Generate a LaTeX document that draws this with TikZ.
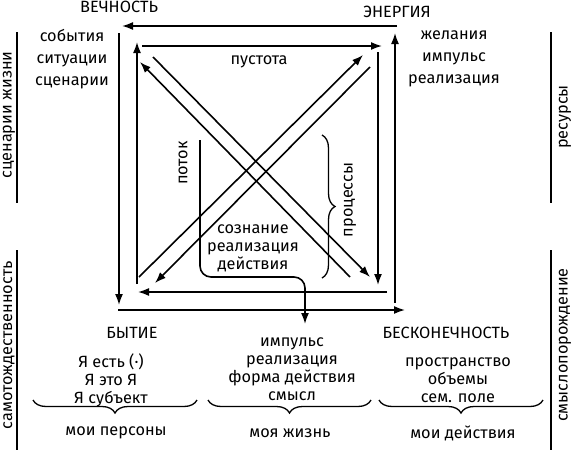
\documentclass[tikz,border=0pt]{standalone}
\usepackage{fontspec}
\setmainfont{Fira Sans}
\usepackage{tikz}
\usetikzlibrary{arrows.meta,positioning,decorations.pathreplacing}

\begin{document}
\begin{tikzpicture}[
			x = 1pt, y = -1pt,
			every node/.style = {font = \fontsize{16.3}{22}\selectfont, inner sep = 0pt, align = center},
			tight/.style = {font = \fontsize{16.3}{18}\selectfont},
			side/.style = {rotate = 90},
			edge/.style = {line width = 1.6pt},
			arr/.style = {edge, -{Latex[length = 11pt, width = 8pt]}},
			brc/.style = {line width = 1.3pt, decorate, decoration = {brace, amplitude = 13pt}}
			]

			\useasboundingbox (0,0) rectangle (574,450);

			% outer frame
			\coordinate (OTr) at (397,26);
			\coordinate (OTl) at (122,26);
			\coordinate (OLt) at (119,33);
			\coordinate (OLb) at (119,305);
			\coordinate (OBl) at (118,310);
			\coordinate (OBr) at (405,310);
			\coordinate (ORb) at (395,303);
			\coordinate (ORt) at (395,33);
			% inner frame
			\coordinate (ITl) at (142,46);
			\coordinate (ITr) at (382,46);
			\coordinate (IRt) at (378,52);
			\coordinate (IRb) at (378,285);
			\coordinate (IBr) at (387,292);
			\coordinate (IBl) at (138,292);
			\coordinate (ILb) at (137,284);
			\coordinate (ILt) at (137,42);

			\draw[arr] (OTr) -- (OTl);
			\draw[arr] (OLt) -- (OLb);
			\draw[arr] (OBl) -- (OBr);
			\draw[arr] (ORb) -- (ORt);

			\draw[arr] (ITl) -- (ITr);
			\draw[arr] (IRt) -- (IRb);
			\draw[arr] (IBr) -- (IBl);
			\draw[arr] (ILb) -- (ILt);

			% diagonals
			\coordinate (Ab) at (350,277);
			\coordinate (At) at (140,62);
			\coordinate (Bt) at (153,57);
			\coordinate (Bb) at (370,277);
			\coordinate (Cb) at (139,277);
			\coordinate (Ct) at (363,55);
			\coordinate (Dt) at (370,67);
			\coordinate (Db) at (155,283);

			\draw[arr] (Ab) -- (At);
			\draw[arr] (Bt) -- (Bb);
			\draw[arr] (Cb) -- (Ct);
			\draw[arr] (Dt) -- (Db);

			% flow
			\coordinate (Ps) at (200,140);
			\coordinate (Pe) at (305,324);
			\draw[arr, rounded corners = 11pt] (Ps) |- (Pe |- 0,277) -- (Pe);

			% corner names
			\node (vech) at (119,7) {ВЕЧНОСТЬ};
			\node (energ) at (397,12) {ЭНЕРГИЯ};
			\node (byt) at (132,333) {БЫТИЕ};
			\node (besk) at (446,333) {БЕСКОНЕЧНОСТЬ};

			\node (sob) at (72,59) {события\\ситуации\\сценарии};
			\node (zhel) at (454,59) {желания\\импульс\\реализация};
			\node (pust) at (259,62) {пустота};
			\node[side] (potok) at (183,163) {поток};
			\node[side] (proc) at (350,200) {процессы};
			\node[tight] (soz) at (253,248) {сознание\\реализация\\действия};

			\draw[brc] (322,135) -- (322,278);

			% bottom columns
			\node[tight] (ya) at (111,380) {Я есть (·)\\Я это Я\\Я субъект};
			\node[tight] (imp) at (292,369) {импульс\\реализация\\форма действия\\смысл};
			\node[tight] (prost) at (458,380) {пространство\\объемы\\сем. поле};

			\draw[brc] (197,400) -- (33,400);
			\draw[brc] (371,400) -- (208,400);
			\draw[brc] (543,400) -- (379,400);

			\node (pers) at (116,433) {мои персоны};
			\node (zhizn) at (290,433) {моя жизнь};
			\node (deist) at (463,433) {мои действия};

			% side bars
			\draw[edge] (17,32) -- (17,203);
			\draw[edge] (17,250) -- (17,450);
			\draw[edge] (551,32) -- (551,203);
			\draw[edge] (551,250) -- (551,450);

			\node[side] (scen) at (9,115) {сценарии жизни};
			\node[side] (res) at (565,117) {ресурсы};
			\node[side] (samo) at (9,345) {самотождественность};
			\node[side] (smysl) at (565,345) {смыслопорождение};

		\end{tikzpicture}
\end{document}
